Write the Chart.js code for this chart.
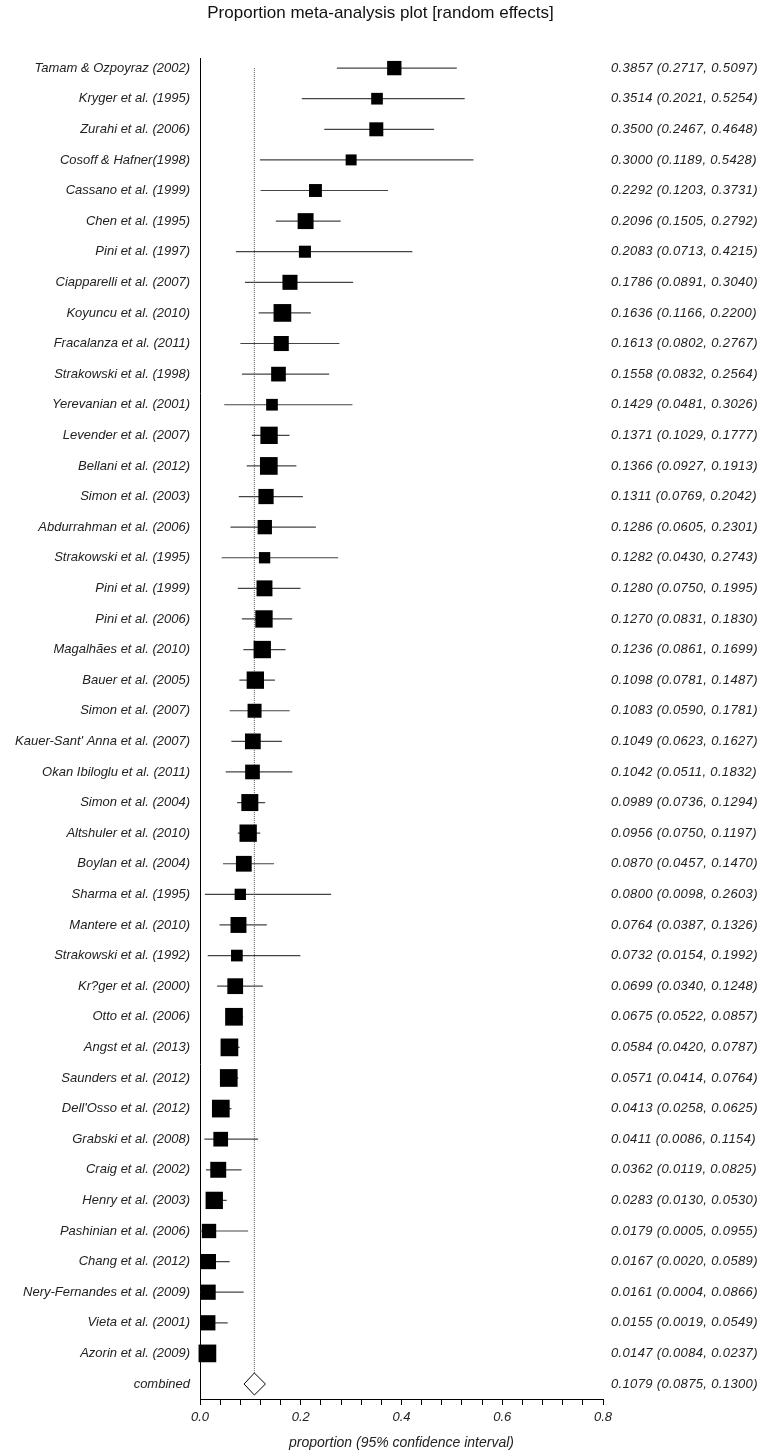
<!DOCTYPE html>
<html>
<head>
<meta charset="utf-8">
<script src="https://cdn.jsdelivr.net/npm/chart.js@4.4.1/dist/chart.umd.min.js"></script>
<style>
  html, body { margin: 0; padding: 0; background: #fff; }
  #wrap { width: 761px; height: 1451px; position: relative; }
</style>
</head>
<body>
<div id="wrap"><canvas id="c"></canvas></div>
<script>
const studies = [
  "Tamam & Ozpoyraz (2002)", "Kryger et al. (1995)", "Zurahi et al. (2006)", "Cosoff & Hafner(1998)",
  "Cassano et al. (1999)", "Chen et al. (1995)", "Pini et al. (1997)", "Ciapparelli et al. (2007)",
  "Koyuncu et al. (2010)", "Fracalanza et al. (2011)", "Strakowski et al. (1998)", "Yerevanian et al. (2001)",
  "Levender et al. (2007)", "Bellani et al. (2012)", "Simon et al. (2003)", "Abdurrahman et al. (2006)",
  "Strakowski et al. (1995)", "Pini et al. (1999)", "Pini et al. (2006)", "Magalhães et al. (2010)",
  "Bauer et al. (2005)", "Simon et al. (2007)", "Kauer-Sant' Anna et al. (2007)", "Okan Ibiloglu et al. (2011)",
  "Simon et al. (2004)", "Altshuler et al. (2010)", "Boylan et al. (2004)", "Sharma et al. (1995)",
  "Mantere et al. (2010)", "Strakowski et al. (1992)", "Kr?ger et al. (2000)", "Otto et al. (2006)",
  "Angst et al. (2013)", "Saunders et al. (2012)", "Dell'Osso et al. (2012)", "Grabski et al. (2008)",
  "Craig et al. (2002)", "Henry et al. (2003)", "Pashinian et al. (2006)", "Chang et al. (2012)",
  "Nery-Fernandes et al. (2009)", "Vieta et al. (2001)", "Azorin et al. (2009)"
];
const estimates = [0.3857,0.3514,0.3500,0.3000,0.2292,0.2096,0.2083,0.1786,0.1636,0.1613,0.1558,0.1429,
  0.1371,0.1366,0.1311,0.1286,0.1282,0.1280,0.1270,0.1236,0.1098,0.1083,0.1049,0.1042,0.0989,0.0956,
  0.0870,0.0800,0.0764,0.0732,0.0699,0.0675,0.0584,0.0571,0.0413,0.0411,0.0362,0.0283,0.0179,0.0167,
  0.0161,0.0155,0.0147];
const lower = [0.2717,0.2021,0.2467,0.1189,0.1203,0.1505,0.0713,0.0891,0.1166,0.0802,0.0832,0.0481,
  0.1029,0.0927,0.0769,0.0605,0.0430,0.0750,0.0831,0.0861,0.0781,0.0590,0.0623,0.0511,0.0736,0.0750,
  0.0457,0.0098,0.0387,0.0154,0.0340,0.0522,0.0420,0.0414,0.0258,0.0086,0.0119,0.0130,0.0005,0.0020,
  0.0004,0.0019,0.0084];
const upper = [0.5097,0.5254,0.4648,0.5428,0.3731,0.2792,0.4215,0.3040,0.2200,0.2767,0.2564,0.3026,
  0.1777,0.1913,0.2042,0.2301,0.2743,0.1995,0.1830,0.1699,0.1487,0.1781,0.1627,0.1832,0.1294,0.1197,
  0.1470,0.2603,0.1326,0.1992,0.1248,0.0857,0.0787,0.0764,0.0625,0.1154,0.0825,0.0530,0.0955,0.0589,
  0.0866,0.0549,0.0237];
// relative study weights (box size relative to the largest box)
const weights = [0.81,0.66,0.79,0.62,0.73,0.90,0.68,0.85,1.00,0.85,0.83,0.66,
  0.98,1.00,0.86,0.81,0.64,0.90,0.98,0.98,0.98,0.79,0.89,0.83,0.96,0.98,
  0.89,0.64,0.90,0.66,0.89,1.00,1.00,1.00,1.00,0.83,0.90,0.98,0.81,0.86,
  0.86,0.86,1.00];
const combinedLabel = "combined";
const combined = [0.1079, 0.0875, 0.1300];
const tickLabels = ["0.0", "0.2", "0.4", "0.6", "0.8"];
const title = "Proportion meta-analysis plot [random effects]";
const xTitle = "proportion (95% confidence interval)";

// ---- build datasets ----
const n = studies.length;
const cRow = n; // row of combined
const MAX_BOX = 17.7;
const DIAMOND_H = 0.36;

const ciData = [];
for (let i = 0; i < n; i++) {
  ciData.push({x: lower[i], y: i}, {x: upper[i], y: i}, {x: null, y: null});
}
const boxData = estimates.map((v, i) => ({x: v, y: i}));
const boxRadius = weights.map(w => (w * MAX_BOX) / Math.SQRT2);
const diamondData = [
  {x: combined[1], y: cRow}, {x: combined[0], y: cRow - DIAMOND_H},
  {x: combined[2], y: cRow}, {x: combined[0], y: cRow + DIAMOND_H},
  {x: combined[1], y: cRow}
];
const refLine = [{x: combined[0], y: 0}, {x: combined[0], y: cRow - DIAMOND_H}];

const FONT = "'Liberation Sans', Arial, sans-serif";

const textPlugin = {
  id: 'forestText',
  afterDraw(chart) {
    const ctx = chart.ctx;
    const ys = chart.scales.y;
    const area = chart.chartArea;
    ctx.save();
    ctx.fillStyle = '#222';
    ctx.textBaseline = 'middle';
    ctx.font = "italic 13px " + FONT;
    const rows = studies.concat([combinedLabel]);
    const est = estimates.concat([combined[0]]);
    const lo = lower.concat([combined[1]]);
    const hi = upper.concat([combined[2]]);
    rows.forEach((lab, i) => {
      const y = ys.getPixelForValue(i);
      ctx.textAlign = 'right';
      ctx.letterSpacing = '0px';
      ctx.fillText(lab, area.left - 10, y);
      ctx.textAlign = 'left';
      ctx.letterSpacing = '0.35px';
      ctx.fillText(est[i].toFixed(4) + " (" + lo[i].toFixed(4) + ", " + hi[i].toFixed(4) + ")", 611, y);
    });
    ctx.letterSpacing = '0px';
    ctx.textAlign = 'center';
    ctx.font = "italic 14px " + FONT;
    ctx.fillText(xTitle, (area.left + area.right) / 2, area.bottom + 44);
    ctx.font = "17px " + FONT;
    ctx.fillStyle = '#111';
    ctx.fillText(title, chart.width / 2, 13);
    ctx.restore();
  }
};

new Chart(document.getElementById('c'), {
  type: 'scatter',
  data: {
    datasets: [
      {
        type: 'line', data: boxData, showLine: false, order: 1,
        pointStyle: 'rect', pointRadius: boxRadius, pointHoverRadius: boxRadius,
        backgroundColor: '#000', borderColor: '#000', borderWidth: 0, clip: false
      },
      {
        type: 'line', data: ciData, order: 2, spanGaps: false,
        borderColor: '#444', borderWidth: 1.2, pointRadius: 0, tension: 0
      },
      {
        type: 'line', data: diamondData, order: 0,
        borderColor: '#000', borderWidth: 1, pointRadius: 0, tension: 0,
        fill: false, backgroundColor: '#fff'
      },
      {
        type: 'line', data: refLine, order: 3,
        borderColor: '#555', borderWidth: 1, borderDash: [1, 1], pointRadius: 0
      }
    ]
  },
  options: {
    responsive: true,
    maintainAspectRatio: false,
    animation: false,
    events: [],
    layout: { padding: { left: 200, right: 158, top: 58, bottom: 0 } },
    plugins: { legend: { display: false }, tooltip: { enabled: false }, title: { display: false } },
    scales: {
      x: {
        type: 'linear', min: 0, max: 0.8,
        afterFit(s) { s.height = 52; },
        ticks: {
          stepSize: 0.04, autoSkip: false, maxRotation: 0, padding: 5,
          color: '#222', font: { family: FONT, size: 13, style: 'italic' },
          callback(v, idx) { return idx % 5 === 0 ? tickLabels[idx / 5] : ''; }
        },
        grid: { display: true, drawOnChartArea: false, drawTicks: true, tickLength: 6, color: '#000' },
        border: { display: true, color: '#000', width: 1 },
        title: { display: false }
      },
      y: {
        type: 'linear', reverse: true, min: -0.33, max: n + 0.49,
        afterFit(s) { s.width = 0; },
        ticks: { display: false },
        grid: { display: false, drawTicks: false },
        border: { display: true, color: '#000', width: 1 }
      }
    }
  },
  plugins: [textPlugin]
});
</script>
</body>
</html>
